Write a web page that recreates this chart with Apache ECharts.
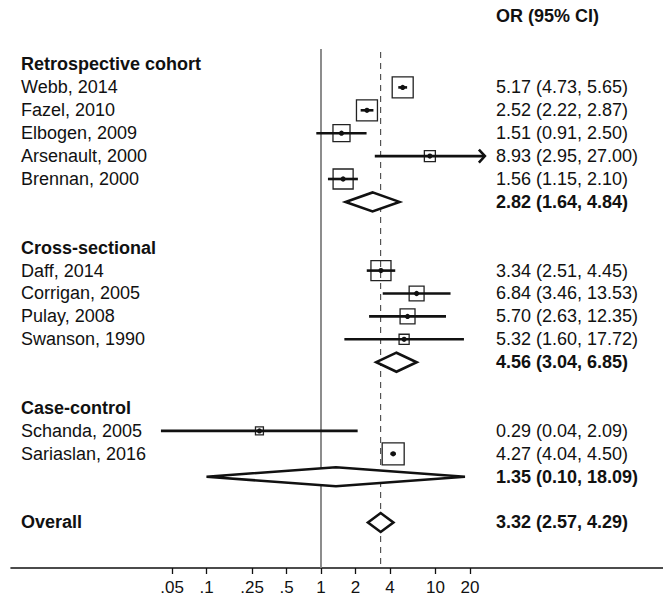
<!DOCTYPE html>
<html><head><meta charset="utf-8">
<script src="https://cdn.jsdelivr.net/npm/echarts@6/dist/echarts.min.js"></script>
<style>html,body{margin:0;padding:0;background:#fff}#c{width:663px;height:596px}</style>
</head><body><div id="c"></div>
<script>
// ---- data ----
const columnTitle = 'OR (95% CI)';
const groupNames = ['Retrospective cohort', 'Cross-sectional', 'Case-control'];
const groupRows = [0, 8, 15];
const studyNames = ['Webb, 2014', 'Fazel, 2010', 'Elbogen, 2009', 'Arsenault, 2000', 'Brennan, 2000',
  'Daff, 2014', 'Corrigan, 2005', 'Pulay, 2008', 'Swanson, 1990',
  'Schanda, 2005', 'Sariaslan, 2016'];
const studyRows = [1, 2, 3, 4, 5, 9, 10, 11, 12, 16, 17];
const studyOR = [5.17, 2.52, 1.51, 8.93, 1.56, 3.34, 6.84, 5.70, 5.32, 0.29, 4.27];
const studyLo = [4.73, 2.22, 0.91, 2.95, 1.15, 2.51, 3.46, 2.63, 1.60, 0.04, 4.04];
const studyHi = [5.65, 2.87, 2.50, 27.00, 2.10, 4.45, 13.53, 12.35, 17.72, 2.09, 4.50];
const studyWeights = [9.1, 9.1, 6.0, 2.5, 8.3, 8.3, 4.6, 4.6, 2.1, 1.3, 10.0];
const pooledLabels = ['', '', '', 'Overall'];
const pooledRows = [6, 13, 18, 20];
const pooledOR = [2.82, 4.56, 1.35, 3.32];
const pooledLo = [1.64, 3.04, 0.10, 2.57];
const pooledHi = [4.84, 6.85, 18.09, 4.29];
const tickValues = [0.05, 0.1, 0.25, 0.5, 1, 2, 4, 10, 20];
const tickLabels = ['.05', '.1', '.25', '.5', '1', '2', '4', '10', '20'];
const nullValue = 1;
const overallValue = 3.32;

// ---- layout ----
const L = Math.log10;
const FONT = '"Liberation Sans", Arial, Helvetica, sans-serif';
const FS = 18;
const TXT = '#111';
const X_MIN = -2.7074, X_MAX = 2.9869;
const ROW_MIN = -2.8166, ROW_MAX = 21.987;
const LEFT_X = 21, RIGHT_X = 496;
const fmt = (o, l, h) => o.toFixed(2) + ' (' + l.toFixed(2) + ', ' + h.toFixed(2) + ')';

const studyData = studyRows.map((r, i) => [r, studyOR[i], studyLo[i], studyHi[i], studyWeights[i], i]);
const pooledData = pooledRows.map((r, i) => [r, pooledOR[i], pooledLo[i], pooledHi[i], i]);

const textItems = [];
textItems.push({ row: -2.12, left: '', right: columnTitle, bold: true, boldL: true });
groupRows.forEach((r, i) => textItems.push({ row: r, left: groupNames[i], right: '', boldL: true }));
studyRows.forEach((r, i) => textItems.push({ row: r, left: studyNames[i], right: fmt(studyOR[i], studyLo[i], studyHi[i]) }));
pooledRows.forEach((r, i) => textItems.push({ row: r, left: pooledLabels[i], right: fmt(pooledOR[i], pooledLo[i], pooledHi[i]), bold: true, boldL: true }));

const chart = echarts.init(document.getElementById('c'), null, { renderer: 'svg' });
chart.setOption({
  animation: false,
  backgroundColor: '#fff',
  grid: { left: 11, right: 0, top: 0, bottom: 28 },
  xAxis: {
    type: 'value', min: X_MIN, max: X_MAX,
    axisLine: { show: true, onZero: false, lineStyle: { color: '#111', width: 1.6 } },
    axisTick: { show: true, customValues: tickValues.map(L), length: 6, lineStyle: { color: '#111', width: 1.3 } },
    axisLabel: {
      customValues: tickValues.map(L), margin: 11,
      fontFamily: FONT, fontSize: 17, color: TXT,
      formatter: v => {
        let bi = 0, bd = 1e9;
        tickValues.forEach((t, i) => { const d = Math.abs(L(t) - v); if (d < bd) { bd = d; bi = i; } });
        return tickLabels[bi];
      }
    },
    splitLine: { show: false }
  },
  yAxis: { type: 'value', inverse: true, min: ROW_MIN, max: ROW_MAX, show: false },
  series: [
    {
      type: 'custom', silent: true, z: 1,
      data: [[nullValue, overallValue]],
      renderItem: (params, api) => {
        const bottom = api.coord([0, ROW_MAX])[1];
        const a = api.coord([L(api.value(0)), ROW_MIN]);
        const b = api.coord([L(api.value(1)), ROW_MIN]);
        return { type: 'group', children: [
          { type: 'line', shape: { x1: a[0], y1: 49, x2: a[0], y2: bottom }, style: { stroke: '#808080', lineWidth: 1.8 } },
          { type: 'line', shape: { x1: b[0], y1: 52, x2: b[0], y2: bottom }, style: { stroke: '#333', lineWidth: 1, lineDash: [6, 5] } }
        ] };
      }
    },
    {
      type: 'custom', silent: true, z: 3,
      data: studyData,
      renderItem: (params, api) => {
        const row = api.value(0), est = api.value(1), lo = api.value(2), hi = api.value(3), w = api.value(4);
        const c = api.coord([L(est), row]);
        const cl = api.coord([L(lo), row]);
        const ch = api.coord([L(hi), row]);
        const s = 22 * Math.sqrt(w / 10);
        const kids = [
          { type: 'rect', shape: { x: c[0] - s / 2, y: c[1] - s / 2, width: s, height: s }, style: { fill: 'none', stroke: '#222', lineWidth: 1.3 } },
          { type: 'line', shape: { x1: cl[0], y1: c[1], x2: ch[0], y2: c[1] }, style: { stroke: '#111', lineWidth: 2.6 } },
          { type: 'circle', shape: { cx: c[0], cy: c[1], r: 2.6 }, style: { fill: '#111' } }
        ];
        if (hi > tickValues[tickValues.length - 1]) {
          kids.push({ type: 'polyline', shape: { points: [[ch[0] - 6, c[1] - 6.5], [ch[0], c[1]], [ch[0] - 6, c[1] + 6.5]] },
            style: { stroke: '#111', lineWidth: 2.6, fill: 'none' } });
        }
        return { type: 'group', children: kids };
      }
    },
    {
      type: 'custom', silent: true, z: 3,
      data: pooledData,
      renderItem: (params, api) => {
        const row = api.value(0), est = api.value(1), lo = api.value(2), hi = api.value(3);
        const c = api.coord([L(est), row]);
        const cl = api.coord([L(lo), row]);
        const ch = api.coord([L(hi), row]);
        const h = 9.5;
        return { type: 'polygon', shape: { points: [[cl[0], c[1]], [c[0], c[1] - h], [ch[0], c[1]], [c[0], c[1] + h]] },
          style: { fill: '#fff', stroke: '#111', lineWidth: 2.6, lineJoin: 'miter' } };
      }
    },
    {
      type: 'custom', silent: true, z: 4,
      data: textItems.map((t, i) => [t.row, i]),
      renderItem: (params, api) => {
        const t = textItems[api.value(1)];
        const y = api.coord([0, t.row])[1];
        const kids = [];
        if (t.left) kids.push({ type: 'text', x: LEFT_X, y: y, style: { text: t.left, fill: TXT, font: (t.boldL ? 'bold ' : '') + FS + 'px ' + FONT, textVerticalAlign: 'middle', verticalAlign: 'middle' } });
        if (t.right) kids.push({ type: 'text', x: RIGHT_X, y: y, style: { text: t.right, fill: TXT, font: (t.bold ? 'bold ' : '') + FS + 'px ' + FONT, textVerticalAlign: 'middle', verticalAlign: 'middle' } });
        return { type: 'group', children: kids };
      }
    }
  ]
});
</script></body></html>
